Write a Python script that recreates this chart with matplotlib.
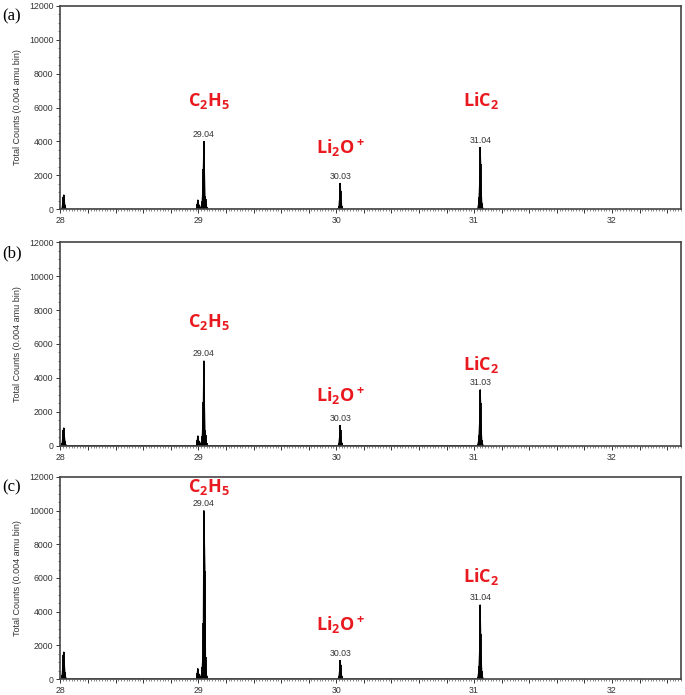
import numpy as np
import matplotlib
matplotlib.use("Agg")
from matplotlib import pyplot as plt
from matplotlib.ticker import MultipleLocator, FuncFormatter

plt.rcParams['font.family'] = ['Liberation Sans', 'DejaVu Sans']
plt.rcParams['mathtext.default'] = 'regular'

# stick spectra, 0.004 amu bins (mass, counts)
mass_a = [28.008, 28.012, 28.016, 28.020, 28.024, 28.028, 28.032, 28.036, 28.040, 28.044,
          28.984, 28.988, 28.992, 28.996, 29.000, 29.004, 29.008, 29.012, 29.016, 29.020,
          29.024, 29.028, 29.032, 29.036, 29.040, 29.044, 29.048, 29.052, 29.056, 29.060, 29.064, 29.068,
          30.012, 30.016, 30.020, 30.024, 30.028, 30.032, 30.036, 30.040, 30.044, 30.048,
          31.024, 31.028, 31.032, 31.036, 31.040, 31.044, 31.048, 31.052, 31.056, 31.060, 31.064, 31.068]
counts_a = [0, 100, 350, 700, 850, 500, 250, 100, 40, 0,
            0, 80, 300, 550, 350, 150, 250, 100, 60, 120,
            250, 500, 1200, 2400, 4000, 2300, 800, 600, 300, 120, 50, 0,
            0, 60, 200, 600, 1530, 1100, 500, 200, 80, 0,
            0, 100, 300, 700, 1500, 3650, 2700, 1000, 400, 150, 60, 0]

mass_b = mass_a
counts_b = [0, 150, 450, 900, 1050, 600, 300, 120, 50, 0,
            0, 90, 320, 580, 380, 160, 260, 110, 60, 130,
            280, 550, 1300, 2600, 5000, 2500, 900, 650, 320, 130, 50, 0,
            0, 50, 180, 500, 1200, 900, 400, 160, 60, 0,
            0, 90, 280, 650, 1400, 3300, 2500, 900, 350, 130, 50, 0]

mass_c = mass_a
counts_c = [0, 250, 700, 1400, 1600, 900, 400, 150, 60, 0,
            0, 100, 350, 620, 400, 180, 280, 120, 70, 150,
            350, 700, 1300, 3300, 10000, 8300, 6400, 1300, 500, 200, 80, 0,
            0, 50, 160, 450, 1100, 850, 380, 150, 60, 0,
            0, 120, 350, 800, 1700, 4400, 2700, 1100, 450, 170, 60, 0]

peak_pos = [29.039, 30.030, 31.046]
peak_text_a = ["29.04", "30.03", "31.04"]
peak_text_b = ["29.04", "30.03", "31.03"]
peak_text_c = ["29.04", "30.03", "31.04"]

species = [r"C$_2$H$_5$", r"Li$_2$O$^+$", r"LiC$_2$"]
species_x = [29.077, 30.03, 31.05]
species_y_a = [6400, 3600, 6400]
species_y_b = [7300, 2900, 4800]
species_y_c = [11400, 3200, 6100]

panels = [
    ("(a)", mass_a, counts_a, peak_text_a, species_y_a, [0.0883, 0.6988, 0.9057, 0.2930]),
    ("(b)", mass_b, counts_b, peak_text_b, species_y_b, [0.0883, 0.3587, 0.9057, 0.2927]),
    ("(c)", mass_c, counts_c, peak_text_c, species_y_c, [0.0883, 0.0230, 0.9057, 0.2907]),
]

fig = plt.figure(figsize=(6.85, 6.95), dpi=100)

for tag, mass, counts, ptext, sy, rect in panels:
    ax = fig.add_axes(rect)
    ax.vlines(mass, 0, counts, color='black', lw=1.3)
    ax.plot(mass, counts, color='black', lw=0.8)
    ax.set_xlim(28, 32.5)
    ax.set_ylim(0, 12000)

    ax.xaxis.set_major_locator(MultipleLocator(0.2))
    ax.xaxis.set_major_formatter(FuncFormatter(
        lambda v, p: "%d" % round(v) if abs(v - round(v)) < 1e-6 else ""))
    ax.xaxis.set_minor_locator(MultipleLocator(0.02))
    ax.yaxis.set_major_locator(MultipleLocator(2000))
    ax.yaxis.set_minor_locator(MultipleLocator(500))
    ax.tick_params(axis='both', which='major', direction='out', length=3,
                   width=0.7, labelsize=6.3, colors='#333333', pad=2)
    ax.tick_params(axis='both', which='minor', direction='out', length=1.5,
                   width=0.5, colors='#555555')
    for s in ax.spines.values():
        s.set_color('#444444')
        s.set_linewidth(1.2)

    ax.set_ylabel("Total Counts (0.004 amu bin)", fontsize=6.5, color='#333333', labelpad=5)

    # peak mass labels
    for x, t in zip(peak_pos, ptext):
        i = int(np.argmin(np.abs(np.array(mass) - x)))
        top = max(counts[max(i - 2, 0):i + 3])
        ax.annotate(t, (x, top), xytext=(0, 2), textcoords='offset points',
                    ha='center', va='bottom', fontsize=6.3, color='#333333')

    for x, y, s in zip(species_x, sy, species):
        ax.text(x, y, s, ha='center', va='center', fontsize=13, color='#e8191f',
                fontweight='bold', family=['Open Sans', 'DejaVu Sans'])

    fig.text(0.003, rect[1] + rect[3] - 0.004, tag, fontsize=12,
             family=['Liberation Serif', 'DejaVu Serif'], va='top', ha='left')

fig.savefig("out.png", dpi=100)
